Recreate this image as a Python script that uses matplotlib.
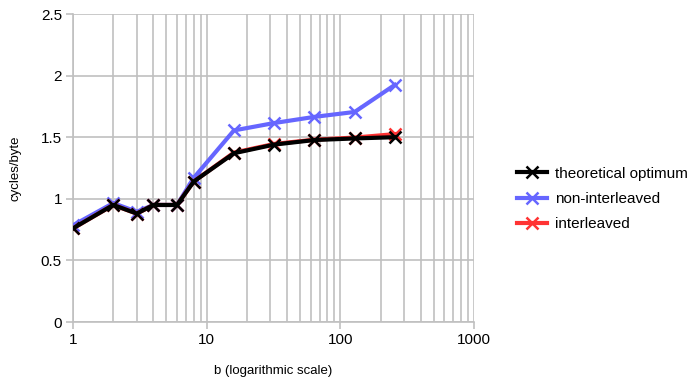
import matplotlib.pyplot as plt
from matplotlib.ticker import FixedLocator, NullFormatter

plt.rcParams['font.family'] = ['Liberation Sans', 'DejaVu Sans']

# block sizes b
b = [1, 2, 3, 4, 6, 8, 16, 32, 64, 128, 256]
optimum = [0.76, 0.95, 0.88, 0.95, 0.95, 1.14, 1.37, 1.44, 1.477, 1.49, 1.50]
non_interleaved = [0.785, 0.965, 0.895, 0.95, 0.95, 1.17, 1.555, 1.615, 1.665, 1.705, 1.925]
interleaved = [0.76, 0.95, 0.88, 0.95, 0.95, 1.14, 1.375, 1.445, 1.48, 1.497, 1.525]

fig = plt.figure(figsize=(6.93, 3.80), dpi=100)
ax = fig.add_axes([73 / 693, 58 / 380, 401 / 693, 308 / 380])

grid_c = '#c0c0c0'
ax.plot(b, non_interleaved, color='#6666ff', lw=3, marker='x', ms=9, mew=1.8,
        label='non-interleaved', zorder=3)
ax.plot(b, interleaved, color='#ff3333', lw=3, marker='x', ms=9, mew=1.8,
        label='interleaved', zorder=4)
ax.plot(b, optimum, color='black', lw=3, marker='x', ms=9, mew=1.8,
        label='theoretical optimum', zorder=5)

ax.set_xscale('log')
ax.set_xlim(1, 1000)
ax.set_ylim(0, 2.5)
ax.set_yticks([0, 0.5, 1, 1.5, 2, 2.5])
ax.set_yticklabels(['0', '0.5', '1', '1.5', '2', '2.5'])
ax.xaxis.set_major_locator(FixedLocator([1, 10, 100, 1000]))
ax.set_xticklabels(['1', '10', '100', '1000'])
ax.xaxis.set_minor_formatter(NullFormatter())
ax.minorticks_on()
ax.yaxis.set_minor_locator(FixedLocator([]))

ax.grid(True, which='major', color=grid_c, lw=1.2)
ax.grid(True, which='minor', axis='x', color=grid_c, lw=1.2)
ax.set_axisbelow(True)
for s in ['top', 'right']:
    ax.spines[s].set_visible(False)
for s in ['left', 'bottom']:
    ax.spines[s].set_color(grid_c)
    ax.spines[s].set_linewidth(1.2)
ax.tick_params(which='major', length=5, color=grid_c, width=1.2, labelsize=11, pad=3)
ax.tick_params(which='minor', length=0)

ax.set_xlabel('b (logarithmic scale)', fontsize=9.5, labelpad=13)
ax.set_ylabel('cycles/byte', fontsize=9.5, labelpad=14)

h, l = ax.get_legend_handles_labels()
order = [2, 0, 1]
fig.legend([h[i] for i in order], [l[i] for i in order], loc='center left',
           bbox_to_anchor=(503 / 693, 1 - 199 / 380), frameon=False, fontsize=11,
           handlelength=2.0, handletextpad=0.5, labelspacing=0.75)

plt.savefig('out.png', dpi=100)
